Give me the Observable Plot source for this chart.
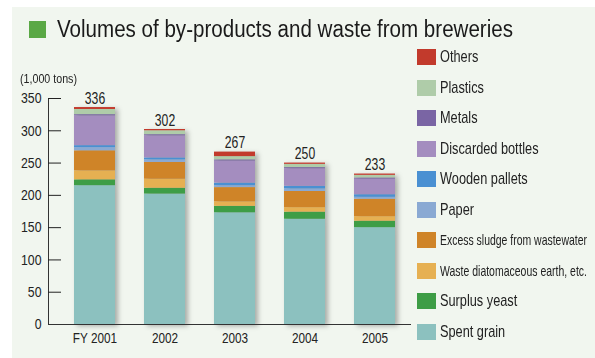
<!DOCTYPE html>
<html>
<head>
<meta charset="utf-8">
<script src="https://cdn.jsdelivr.net/npm/d3@7"></script>
<script src="https://cdn.jsdelivr.net/npm/@observablehq/plot@0.6"></script>
<style>
  html, body { margin: 0; padding: 0; background: #fff; }
  #wrap { position: relative; width: 595px; height: 358px; overflow: hidden; background: #fff;
          font-family: "Liberation Sans", Arial, sans-serif; color: #222; }
  #panel { position: absolute; left: 12px; top: 7px; right: 0; bottom: 0; background: #f1f6ef; }
  #chart { position: absolute; left: 0; top: 0; }
  #sq { position: absolute; left: 29px; top: 21px; width: 17px; height: 17px; background: #5aa845; }
  .fit { position: absolute; white-space: nowrap; transform-origin: 0 50%; }
  #title { left: 57px; top: 16px; font-size: 23.5px; line-height: 27px; color: #1a1a1a; }
  #unit { left: 20px; top: 71px; font-size: 13px; line-height: 15px; }
  .sw { position: absolute; left: 417px; width: 19px; height: 16px; }
</style>
</head>
<body>
<div id="wrap">
  <div id="panel"></div>
  <div id="sq"></div>
  <div id="title" class="fit">Volumes of by-products and waste from breweries</div>
  <div id="unit" class="fit">(1,000 tons)</div>
</div>
<script>
const years = ["FY 2001", "2002", "2003", "2004", "2005"];
const totals = [336, 302, 267, 250, 233];

// Series, bottom to top of the stack
const seriesNames = ["Spent grain", "Surplus yeast", "Waste diatomaceous earth, etc.", "Excess sludge from wastewater",
  "Paper", "Wooden pallets", "Discarded bottles", "Metals", "Plastics", "Others"];
const seriesColors = ["#8cc1bf", "#3e9d46", "#e6b052", "#cf8428", "#8aa9d3", "#4a90d2", "#a48dbf", "#7a65a4", "#afcca9", "#c23a2c"];

const spentGrain = [215, 202, 173, 163, 150];
const surplusYeast = [9, 9, 10, 11, 10];
const diatomaceousEarth = [14, 14, 7, 7, 7];
const excessSludge = [31, 26, 22, 25, 27];
const paper = [5, 4, 3, 4, 3];
const woodenPallets = [3, 3, 4, 4, 4];
const discardedBottles = [46, 34, 34, 27, 24];
const metals = [2, 2, 2, 2, 2];
const plastics = [8, 6, 5, 5, 4];
const others = [3, 2, 7, 2, 2];

const seriesValues = [spentGrain, surplusYeast, diatomaceousEarth, excessSludge, paper, woodenPallets,
  discardedBottles, metals, plastics, others];

const yTicks = [0, 50, 100, 150, 200, 250, 300, 350];

const rows = [];
seriesNames.forEach((s, si) => {
  years.forEach((y, yi) => rows.push({year: y, series: s, value: seriesValues[si][yi]}));
});
const totalRows = years.map((y, i) => ({year: y, total: totals[i]}));

const chart = Plot.plot({
  width: 595,
  height: 358,
  marginLeft: 48,
  marginRight: 184,
  marginTop: 98,
  marginBottom: 34,
  style: {background: "transparent", fontFamily: '"Liberation Sans", Arial, sans-serif', color: "#222"},
  x: {domain: years, paddingInner: 0.41, paddingOuter: 0.27, align: 0.63, label: null},
  y: {domain: [0, 350], label: null},
  color: {domain: seriesNames, range: seriesColors},
  marks: [
    Plot.barY(rows, {x: "year", y: "value", fill: "series", order: seriesNames}),
    Plot.frame({anchor: "left", stroke: "#333"}),
    Plot.tickY(yTicks.filter(d => d > 0), {y: d => d, stroke: "#222", insetRight: 350}),
    Plot.axisY({ticks: yTicks, tickSize: 0, tickPadding: 7, fontSize: 15, label: null}),
    Plot.axisX({tickSize: 0, tickPadding: 7, fontSize: 15.5, label: null}),
    Plot.ruleY([0], {stroke: "#333"}),
    Plot.text(totalRows, {x: "year", y: "total", text: d => String(d.total), dy: -9, fontSize: 16.5, fill: "#222"})
  ]
});
chart.id = "chart";
const barG = chart.querySelector('g[aria-label="bar"]');
if (barG) barG.style.filter = "drop-shadow(3px 2px 2.5px rgba(0,0,0,0.3))";

// condensed look: squeeze text horizontally around its anchor
function squeeze(sel, k) {
  chart.querySelectorAll(sel).forEach(t => {
    const tr = t.getAttribute("transform") || "";
    t.setAttribute("transform", tr + ` scale(${k},1)`);
  });
}
squeeze('g[aria-label="y-axis tick label"] text', 0.82);
squeeze('g[aria-label="x-axis tick label"] text', 0.76);
squeeze('g[aria-label="text"] text', 0.74);

const wrap = document.getElementById("wrap");
wrap.appendChild(chart);

// Legend (top to bottom = reverse of stack order)
const legendOrder = seriesNames.slice().reverse();
const legendEls = [];
legendOrder.forEach((name, i) => {
  const color = seriesColors[seriesNames.indexOf(name)];
  const cy = 57.2 + i * 30.5;
  const sw = document.createElement("div");
  sw.className = "sw";
  sw.style.top = (cy - 8) + "px";
  sw.style.background = color;
  const long = name.length > 20;
  const tx = document.createElement("div");
  tx.className = "fit";
  tx.textContent = name;
  tx.style.left = "440px";
  tx.style.fontSize = (long ? 15 : 17) + "px";
  tx.style.lineHeight = "18px";
  tx.style.top = (cy - 9) + "px";
  wrap.appendChild(sw);
  wrap.appendChild(tx);
  legendEls.push([tx, long]);
});

// horizontal squeeze for HTML texts
function fitWidth(el, w) {
  const nat = el.getBoundingClientRect().width;
  el.style.transform = `scaleX(${w / nat})`;
}
fitWidth(document.getElementById("title"), 456);
fitWidth(document.getElementById("unit"), 57);
legendEls.forEach(([el, long]) => {
  if (long) fitWidth(el, 147);
  else el.style.transform = "scaleX(0.75)";
});
</script>
</body>
</html>
